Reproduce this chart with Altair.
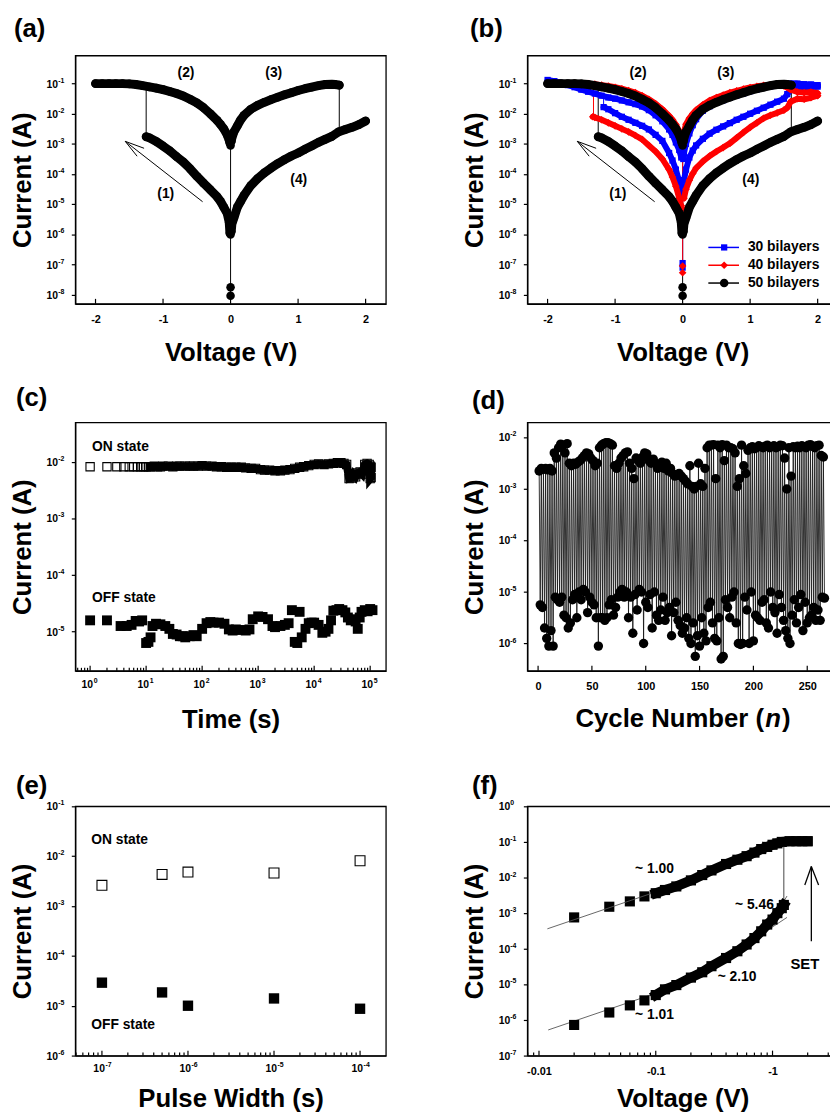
import altair as alt
import pandas as pd

FONT = "Liberation Sans"

# ---------------- (a)/(b): 50 bilayers, black circles (log10 of current) ----------------
bk_hrs_neg_v = [-0.01, -0.02, -0.05, -0.1, -0.15, -0.2, -0.3, -0.4, -0.5, -0.6, -0.7, -0.8, -0.9, -1.0, -1.1, -1.2, -1.25]
bk_hrs_neg_i = [-5.95, -5.6, -5.3, -5.1, -4.9, -4.75, -4.52, -4.3, -4.07, -3.82, -3.6, -3.42, -3.23, -3.07, -2.92, -2.8, -2.76]
bk_lrs_neg_v = [-2.0, -1.9, -1.8, -1.7, -1.6, -1.5, -1.4, -1.3, -1.2, -1.1, -1.0, -0.9, -0.8, -0.7, -0.6, -0.5, -0.4, -0.3, -0.2, -0.15, -0.1, -0.05, -0.02, -0.01]
bk_lrs_neg_i = [-1.0, -1.0, -1.0, -1.0, -1.0, -1.01, -1.03, -1.07, -1.11, -1.15, -1.2, -1.26, -1.33, -1.41, -1.52, -1.64, -1.8, -2.0, -2.22, -2.35, -2.5, -2.7, -2.88, -2.97]
bk_lrs_pos_v = [0.01, 0.02, 0.05, 0.1, 0.15, 0.2, 0.3, 0.4, 0.5, 0.6, 0.7, 0.8, 0.9, 1.0, 1.1, 1.2, 1.3, 1.4, 1.5, 1.55, 1.61]
bk_lrs_pos_i = [-2.92, -2.8, -2.6, -2.4, -2.2, -2.05, -1.85, -1.72, -1.62, -1.53, -1.45, -1.37, -1.3, -1.23, -1.17, -1.12, -1.07, -1.03, -1.02, -1.03, -1.05]
bk_hrs_pos_v = [0.01, 0.02, 0.05, 0.1, 0.15, 0.2, 0.3, 0.4, 0.5, 0.6, 0.7, 0.8, 0.9, 1.0, 1.1, 1.2, 1.3, 1.4, 1.5, 1.6, 1.7, 1.8, 1.9, 2.0]
bk_hrs_pos_i = [-5.9, -5.65, -5.45, -5.1, -4.9, -4.7, -4.38, -4.15, -3.96, -3.8, -3.65, -3.52, -3.4, -3.3, -3.18, -3.07, -2.95, -2.85, -2.75, -2.6, -2.52, -2.45, -2.36, -2.24]
bk_zero_i = [-8.03, -7.75, -6.0, -5.85, -3.05, -2.88]
bk_jump_v = [-1.25, 1.61, 0.0]
bk_jump_from = [-2.76, -1.05, -2.97]
bk_jump_to = [-1.12, -2.58, -8.03]

# ---------------- (b): 30 bilayers, blue squares ----------------
bl_lrs_neg_v = [-2.0, -1.9, -1.8, -1.7, -1.6, -1.5, -1.4, -1.3, -1.2, -1.1, -1.0, -0.9, -0.8, -0.7, -0.6, -0.5, -0.4, -0.3, -0.2, -0.15, -0.1, -0.05, -0.02]
bl_lrs_neg_i = [-0.88, -0.92, -0.98, -1.05, -1.12, -1.2, -1.27, -1.33, -1.4, -1.46, -1.5, -1.56, -1.62, -1.68, -1.76, -1.88, -2.05, -2.25, -2.52, -2.7, -2.95, -3.2, -3.45]
bl_hrs_neg_v = [-1.17, -1.1, -1.0, -0.9, -0.8, -0.7, -0.6, -0.5, -0.4, -0.3, -0.2, -0.15, -0.1, -0.05, -0.02, -0.01]
bl_hrs_neg_i = [-1.78, -1.85, -1.98, -2.1, -2.2, -2.3, -2.4, -2.52, -2.7, -2.9, -3.3, -3.55, -3.85, -4.25, -4.5, -4.7]
bl_lrs_pos_v = [0.01, 0.02, 0.05, 0.1, 0.15, 0.2, 0.3, 0.4, 0.5, 0.6, 0.7, 0.8, 0.9, 1.0, 1.1, 1.2, 1.3, 1.4, 1.5, 1.6, 1.7, 1.8, 1.9, 2.0]
bl_lrs_pos_i = [-3.5, -3.3, -3.0, -2.65, -2.38, -2.18, -1.9, -1.75, -1.64, -1.55, -1.47, -1.39, -1.32, -1.25, -1.19, -1.14, -1.09, -1.05, -1.02, -1.0, -1.0, -1.02, -1.03, -1.05]
bl_hrs_pos_v = [2.0, 1.9, 1.8, 1.7, 1.6, 1.55, 1.5, 1.4, 1.3, 1.2, 1.1, 1.0, 0.9, 0.8, 0.7, 0.6, 0.5, 0.4, 0.3, 0.2, 0.15, 0.1, 0.05, 0.02]
bl_hrs_pos_i = [-1.1, -1.12, -1.12, -1.15, -1.2, -1.35, -1.5, -1.6, -1.7, -1.8, -1.9, -2.0, -2.1, -2.2, -2.31, -2.42, -2.53, -2.66, -2.83, -3.05, -3.22, -3.45, -3.85, -4.2]
bl_zero_i = [-4.4, -6.95, -7.1]
bl_jump_v = [-1.17, 0.0]
bl_jump_from = [-1.78, -3.45]
bl_jump_to = [-1.4, -7.1]

# ---------------- (b): 40 bilayers, red diamonds ----------------
rd_lrs_neg_v = [-2.0, -1.9, -1.8, -1.7, -1.6, -1.5, -1.4, -1.3, -1.2, -1.1, -1.0, -0.9, -0.8, -0.7, -0.6, -0.5, -0.4, -0.3, -0.2, -0.15, -0.1, -0.05, -0.02, -0.01]
rd_lrs_neg_i = [-1.0, -1.0, -1.0, -1.0, -0.99, -1.0, -1.0, -1.02, -1.05, -1.08, -1.12, -1.17, -1.23, -1.3, -1.4, -1.52, -1.67, -1.85, -2.07, -2.2, -2.36, -2.58, -2.8, -2.92]
rd_hrs_neg_v = [-1.33, -1.3, -1.2, -1.1, -1.0, -0.9, -0.8, -0.7, -0.6, -0.5, -0.4, -0.3, -0.2, -0.15, -0.1, -0.05, -0.02, -0.01]
rd_hrs_neg_i = [-2.1, -2.12, -2.2, -2.3, -2.4, -2.5, -2.6, -2.72, -2.85, -3.05, -3.25, -3.5, -3.85, -4.1, -4.4, -4.8, -5.05, -5.15]
rd_lrs_pos_v = [0.01, 0.02, 0.05, 0.1, 0.15, 0.2, 0.3, 0.4, 0.5, 0.6, 0.7, 0.8, 0.9, 1.0, 1.1, 1.2, 1.3, 1.4, 1.5, 1.6, 1.7, 1.8, 1.9, 2.0]
rd_lrs_pos_i = [-2.75, -2.6, -2.35, -2.15, -2.0, -1.88, -1.7, -1.56, -1.46, -1.38, -1.3, -1.24, -1.18, -1.13, -1.09, -1.06, -1.04, -1.04, -1.08, -1.2, -1.28, -1.3, -1.28, -1.32]
rd_hrs_pos_v = [2.0, 1.9, 1.8, 1.7, 1.6, 1.55, 1.5, 1.4, 1.3, 1.2, 1.1, 1.0, 0.9, 0.8, 0.7, 0.6, 0.5, 0.4, 0.3, 0.2, 0.15, 0.1, 0.05, 0.02]
rd_hrs_pos_i = [-1.4, -1.47, -1.52, -1.5, -1.6, -1.8, -1.88, -1.97, -2.05, -2.15, -2.3, -2.45, -2.62, -2.8, -2.98, -3.12, -3.25, -3.4, -3.58, -3.8, -3.98, -4.2, -4.5, -4.8]
rd_zero_i = [-5.15, -7.05, -7.27]
rd_jump_v = [-1.32, 0.0]
rd_jump_from = [-2.1, -2.92]
rd_jump_to = [-1.03, -7.27]

# annotations of (a)/(b), data units
ann_txt = ["(1)", "(2)", "(3)", "(4)"]
ann_v = [-0.96, -0.66, 0.64, 1.01]
ann_i = [-4.65, -0.65, -0.65, -4.2]
arrow_v1 = [-0.414, -1.56, -1.56]
arrow_i1 = [-4.916, -2.914, -2.914]
arrow_v2 = [-1.56, -1.281, -1.384]
arrow_i2 = [-2.914, -3.144, -3.407]
legend_names = ["30 bilayers", "40 bilayers", "50 bilayers"]
legend_colors = ["#0000ff", "#ff0000", "#000000"]
legend_shapes = ["square", "diamond", "circle"]
legend_sizes = [40, 60, 75]

# ---------------- (c): retention ----------------
c_on_t = [1, 2, 3, 4, 5, 6, 7, 8, 9, 10,
          11, 12, 14, 16, 18, 20, 25, 30, 35, 40,
          50, 60, 70, 85, 100, 120, 150, 180, 220, 270,
          330, 400, 500, 600, 750, 900, 1100, 1300, 1600, 2000,
          2500, 3000, 3700, 4500, 5500, 6500, 8000, 10000, 12000, 15000,
          18000, 22000, 26000, 30000, 34000, 38000, 42000, 46000, 50000, 55000,
          60000, 66000, 72000, 80000, 88000, 96000, 100000, 104000, 100000, 104000]
c_on_i = [-2.09, -2.09, -2.09, -2.09, -2.09, -2.09, -2.09, -2.09, -2.09, -2.09,
          -2.09, -2.09, -2.08, -2.09, -2.09, -2.08, -2.08, -2.09, -2.08, -2.08,
          -2.08, -2.08, -2.08, -2.08, -2.07, -2.08, -2.08, -2.09, -2.09, -2.1,
          -2.1, -2.1, -2.1, -2.11, -2.12, -2.12, -2.14, -2.15, -2.15, -2.16,
          -2.16, -2.15, -2.14, -2.12, -2.1, -2.09, -2.07, -2.05, -2.04, -2.05,
          -2.04, -2.03, -2.02, -2.02, -2.03, -2.05, -2.3, -2.29, -2.22, -2.27,
          -2.2, -2.18, -2.22, -2.05, -2.03, -2.05, -2.08, -2.28, -2.3, -2.1]
c_off_t = [1, 2, 3.5, 4.5, 5.5, 6.5, 7.5, 8.5, 10, 11,
           12, 13, 15, 18, 22, 26, 30, 35, 40, 45,
           50, 60, 70, 80, 100, 120, 140, 160, 200, 250,
           300, 350, 400, 500, 600, 700, 800, 1000, 1200, 1500,
           1800, 2000, 2500, 3000, 3500, 4000, 4500, 5000, 5500, 6000,
           7000, 8000, 9000, 10000, 12000, 14000, 16000, 18000, 20000, 22000,
           25000, 28000, 32000, 36000, 40000, 45000, 50000, 55000, 60000, 65000,
           70000, 80000, 90000, 100000, 110000]
c_off_i = [-4.8, -4.8, -4.9, -4.9, -4.88, -4.81, -4.82, -4.8, -5.2, -5.18,
           -5.1, -4.9, -4.86, -4.87, -4.9, -4.95, -5.04, -5.05, -5.08, -5.08,
           -5.1, -5.08, -5.06, -5.08, -4.95, -4.85, -4.83, -4.84, -4.84, -4.86,
           -4.96, -4.98, -4.96, -4.97, -4.98, -4.96, -4.78, -4.73, -4.74, -4.78,
           -4.9, -4.92, -4.9, -4.88, -4.85, -4.62, -5.18, -5.2, -4.65, -5.1,
           -4.95, -4.85, -4.84, -4.84, -4.88, -5.02, -5.0, -4.95, -4.8, -4.63,
           -4.62, -4.6, -4.62, -4.66, -4.75, -4.8, -4.78, -4.82, -4.95, -4.75,
           -4.65, -4.62, -4.64, -4.6, -4.62]

# ---------------- (d): endurance (log10 current, ON / OFF per read pair) ----------------
d_on = [-2.65, -2.6, -2.62, -2.6, -2.63, -2.6, -2.65, -2.3, -2.4, -2.2,
        -2.13, -2.15, -2.3, -2.12, -2.5, -2.55, -2.5, -2.52, -2.48, -2.45,
        -2.4, -2.35, -2.3, -2.32, -2.4, -2.45, -2.55, -2.5, -2.2, -2.15,
        -2.12, -2.1, -2.1, -2.12, -2.15, -2.55, -2.6, -2.5, -2.4, -2.35,
        -2.3, -2.28, -2.5, -2.6, -2.8, -2.4, -2.45, -2.5, -2.38, -2.3,
        -2.32, -2.45, -2.5, -2.42, -2.5, -2.6, -2.55, -2.48, -2.6, -2.5,
        -2.65, -2.6, -2.7, -2.75, -2.72, -2.7, -2.75, -2.8, -2.85, -2.9,
        -2.55, -2.95, -3.0, -2.95, -2.5, -2.9, -2.95, -2.6, -2.2, -2.15,
        -2.15, -2.14, -2.8, -2.15, -2.2, -2.14, -2.45, -2.15, -2.2, -2.2,
        -2.22, -2.3, -2.95, -2.8, -2.15, -2.55, -2.7, -2.25, -2.2, -2.18,
        -2.22, -2.2, -2.16, -2.18, -2.2, -2.17, -2.15, -2.2, -2.18, -2.16,
        -2.2, -2.18, -2.15, -2.16, -2.4, -3.0, -2.2, -2.75, -2.18, -2.2,
        -2.17, -2.2, -2.16, -2.18, -2.2, -2.15, -2.14, -2.17, -2.2, -2.16,
        -2.15, -2.35, -2.38]
d_off = [-5.25, -5.3, -5.7, -5.9, -6.05, -5.75, -6.05, -5.1, -5.15, -5.2,
         -5.1, -5.45, -5.5, -5.7, -5.6, -5.15, -5.05, -5.5, -5.0, -5.15,
         -4.95, -5.0, -5.4, -5.1, -5.2, -5.25, -5.5, -6.05, -5.5, -5.5,
         -5.55, -5.5, -5.25, -5.15, -5.45, -5.3, -5.1, -5.0, -4.95, -5.1,
         -5.0, -5.5, -5.1, -5.8, -5.05, -5.35, -4.95, -5.0, -6.0, -5.2,
         -5.3, -5.05, -5.7, -5.0, -5.45, -5.55, -5.35, -5.1, -5.55, -5.4,
         -5.3, -5.85, -5.4, -5.2, -5.55, -5.65, -5.8, -5.7, -5.5, -5.9,
         -6.0, -5.6, -6.25, -5.85, -6.05, -5.5, -5.8, -5.95, -5.3, -5.2,
         -5.6, -5.9, -5.95, -5.5, -6.3, -6.25, -5.15, -5.3, -5.5, -5.1,
         -5.0, -5.6, -6.0, -6.02, -6.0, -5.1, -5.35, -6.0, -5.0, -5.95,
         -5.45, -5.5, -5.55, -5.2, -5.15, -5.6, -5.7, -5.0, -5.3, -5.4,
         -5.8, -5.05, -5.3, -5.55, -5.75, -5.9, -6.0, -5.45, -5.15, -5.6,
         -5.3, -5.05, -5.75, -5.2, -5.6, -5.5, -5.45, -5.3, -5.55, -5.35,
         -5.55, -5.1, -5.12]

# ---------------- (e): pulse width ----------------
e_width = [1e-7, 5e-7, 1e-6, 1e-5, 1e-4]
e_on = [2.6e-3, 4.3e-3, 4.8e-3, 4.6e-3, 8.1e-3]
e_off = [2.9e-5, 1.85e-5, 1.0e-5, 1.4e-5, 8.7e-6]

# ---------------- (f): log-log fitting (|V|, log10 I) ----------------
f_on_v = [0.02, 0.04, 0.06, 0.08, 0.1, 0.12, 0.15, 0.2, 0.25, 0.3, 0.4, 0.5, 0.6, 0.7, 0.8, 0.9, 1.0, 1.1, 1.2, 1.4, 1.6, 1.8, 2.0]
f_on_i = [-3.12, -2.82, -2.67, -2.53, -2.44, -2.35, -2.25, -2.08, -1.93, -1.8, -1.62, -1.5, -1.4, -1.3, -1.2, -1.14, -1.08, -1.04, -1.0, -0.98, -0.98, -0.98, -0.98]
f_off_v = [0.02, 0.04, 0.06, 0.08, 0.1, 0.12, 0.15, 0.2, 0.25, 0.3, 0.4, 0.5, 0.6, 0.7, 0.8, 0.9, 1.0, 1.1, 1.2, 1.25]
f_off_i = [-6.14, -5.79, -5.59, -5.45, -5.3, -5.14, -5.02, -4.81, -4.66, -4.49, -4.26, -4.07, -3.88, -3.7, -3.51, -3.32, -3.18, -3.0, -2.86, -2.77]
fit_v1 = [0.0118, 0.012, 0.2, 0.9]
fit_i1 = [-3.44, -6.28, -4.9, -3.45]
fit_v2 = [0.105, 0.1, 1.33, 1.33]
fit_i2 = [-2.38, -5.25, -3.12, -2.52]
f_lab_txt = ["~ 1.00", "~ 5.46", "~ 2.10", "~ 1.01"]
f_lab_v = [0.0665, 0.477, 0.339, 0.0665]
f_lab_i = [-1.77, -2.77, -4.8, -5.86]
f_jump_v = [1.25]
f_jump_from = [-2.77]
f_jump_to = [-1.0]
set_v1 = [2.15, 2.15, 2.15]
set_i1 = [-3.79, -1.69, -1.69]
set_v2 = [2.15, 1.89, 2.48]
set_i2 = [-1.69, -2.21, -2.21]

# =====================================================================
ONE = pd.DataFrame({"a": [0]})
W = 314
LBL = 10.5   # tick label font size
SUPSZ = 7    # exponent font size


def y_axis():
    # labels are drawn as "10" + raised exponent text layers
    return alt.Axis(labels=False, title="Current (A)", tickSize=4, titlePadding=10,
                    minExtent=30, maxExtent=30, grid=False)


def x_axis(values, title, expr=None, tpad=14):
    kw = dict(values=values, ticks=False, tickSize=0, labelPadding=10,
              titlePadding=tpad, minExtent=22, maxExtent=22, grid=False,
              labelOverlap=False, labelFlush=False, labelFontSize=11)
    if expr is None:
        kw["labels"] = False
    else:
        kw["labelExpr"] = expr
    kw["title"] = title
    return alt.Axis(**kw)


def lg(vals):
    return [10.0 ** x for x in vals]


class Ctx:
    def __init__(self, xs, ys, xa, ya, h, ytick_exps):
        self.xs, self.ys, self.xa, self.ya, self.h = xs, ys, xa, ya, h
        self.ya.values = [10.0 ** e for e in ytick_exps]
        self.yexps = ytick_exps

    def X(self, f):
        return alt.X(f, type="quantitative", scale=self.xs, axis=self.xa)

    def Y(self, f):
        return alt.Y(f, type="quantitative", scale=self.ys, axis=self.ya)


def pow_df(exps):
    return pd.DataFrame({"tv": [10.0 ** e for e in exps], "ex": [str(e) for e in exps]})


def y_pow_labels(ctx):
    df = pow_df(ctx.yexps)
    base = alt.Chart(df).mark_text(text="10", align="left", baseline="middle", dy=1, font=FONT,
                                   fontSize=LBL, fontWeight="bold", color="black").encode(
        x=alt.value(-29), y=ctx.Y("tv"))
    sup = alt.Chart(df).mark_text(align="left", baseline="middle", dy=-3, font=FONT, fontSize=SUPSZ,
                                  fontWeight="bold", color="black").encode(
        x=alt.value(-17.2), y=ctx.Y("tv"), text="ex:N")
    return [base, sup]


def x_pow_labels(ctx, exps):
    df = pow_df(exps)
    base = alt.Chart(df).mark_text(text="10", align="right", baseline="middle", dx=3, font=FONT,
                                   fontSize=LBL, fontWeight="bold", color="black").encode(
        x=ctx.X("tv"), y=alt.value(ctx.h + 14))
    sup = alt.Chart(df).mark_text(align="left", baseline="middle", dx=3.6, font=FONT, fontSize=SUPSZ,
                                  fontWeight="bold", color="black").encode(
        x=ctx.X("tv"), y=alt.value(ctx.h + 10), text="ex:N")
    return [base, sup]


def branches_df(branches):
    rows = []
    for name, vs, ls in branches:
        for k, (v, l) in enumerate(zip(vs, ls)):
            rows.append({"v": v, "i": 10.0 ** l, "br": name, "ord": k})
    return pd.DataFrame(rows)


def free_text(txt, dx, dy, size=26, italic=False, baseline="top"):
    return alt.Chart(ONE).mark_text(text=txt, align="left", baseline=baseline, font=FONT, fontSize=size,
                                    fontWeight="bold", fontStyle="italic" if italic else "normal",
                                    color="black").encode(x=alt.value(dx), y=alt.value(dy))


def panel_label(txt, dx, dy):
    return free_text(txt, dx, dy)


def spacer(h, top, bottom, left=None):
    """invisible layout guides that fix the outer extent of a panel"""
    out = [alt.Chart(ONE).mark_rule(strokeOpacity=0, strokeWidth=0).encode(
        x=alt.value(0), y=alt.value(-top), y2=alt.value(h + bottom))]
    if left is not None:
        out.append(alt.Chart(ONE).mark_rule(strokeOpacity=0, strokeWidth=0).encode(
            x=alt.value(-left), x2=alt.value(0), y=alt.value(0)))
    return out


def in_ticks(ctx, values, length):
    df = pd.DataFrame({"tk": values})
    return alt.Chart(df).mark_rule(color="black", strokeWidth=1.2).encode(
        x=ctx.X("tk"), y=alt.value(ctx.h), y2=alt.value(ctx.h - length))


def log_minor(lo, hi, kmin, kmax):
    return [m * 10.0 ** k for k in range(kmin, kmax + 1) for m in range(2, 10) if lo <= m * 10.0 ** k <= hi]


def log_major(lo, hi, kmin, kmax):
    return [10.0 ** k for k in range(kmin, kmax + 1) if lo <= 10.0 ** k <= hi]


def texts(ctx, txt, xv, yv, size=14, align="center"):
    df = pd.DataFrame({"t": txt, "x": xv, "y": yv})
    return alt.Chart(df).mark_text(font=FONT, fontSize=size, fontWeight="bold", color="black",
                                   align=align, baseline="middle").encode(
        x=ctx.X("x"), y=ctx.Y("y"), text="t:N")


def segs(ctx, v1, i1, v2, i2, color="black", width=1.0):
    df = pd.DataFrame({"v1": v1, "i1": lg(i1), "v2": v2, "i2": lg(i2)})
    return alt.Chart(df).mark_rule(color=color, strokeWidth=width).encode(
        x=ctx.X("v1"), y=ctx.Y("i1"), x2="v2:Q", y2="i2:Q")


# ---------------- I-V panels (a), (b) ----------------
H1 = 251
IV = Ctx(alt.Scale(domain=[-2.3, 2.3], nice=False, zero=False),
         alt.Scale(type="log", domain=[10 ** -8.3, 10 ** -0.07], nice=False),
         x_axis([-2, -1, 0, 1, 2], "Voltage (V)", "datum.value < 0 ? '-' + abs(datum.value) : '' + datum.value"),
         y_axis(), H1, list(range(-8, 0)))


def iv_series(branches, zero_i, color, shape, size, lw):
    df = branches_df(branches)
    zdf = pd.DataFrame({"v": [0.0] * len(zero_i), "i": lg(zero_i)})
    band = alt.Chart(df).mark_line(color=color, strokeWidth=lw, strokeCap="round", strokeJoin="round").encode(
        x=IV.X("v"), y=IV.Y("i"), detail="br:N", order="ord:Q")
    pts_df = pd.concat([df[["v", "i"]], zdf], ignore_index=True)
    pts = alt.Chart(pts_df).mark_point(shape=shape, filled=True, size=size, color=color, opacity=1,
                                       strokeWidth=0).encode(x=IV.X("v"), y=IV.Y("i"))
    return [band, pts]


def iv_jumps(jv, jf, jt, color):
    df = pd.DataFrame({"v": jv, "i1": lg(jf), "i2": lg(jt)})
    return alt.Chart(df).mark_rule(color=color, strokeWidth=1).encode(x=IV.X("v"), y=IV.Y("i1"), y2="i2:Q")


bk_branches = [("hn", bk_hrs_neg_v, bk_hrs_neg_i), ("ln", bk_lrs_neg_v, bk_lrs_neg_i),
               ("lp", bk_lrs_pos_v, bk_lrs_pos_i), ("hp", bk_hrs_pos_v, bk_hrs_pos_i)]
bl_branches = [("hn", bl_hrs_neg_v, bl_hrs_neg_i), ("ln", bl_lrs_neg_v, bl_lrs_neg_i),
               ("lp", bl_lrs_pos_v, bl_lrs_pos_i), ("hp", bl_hrs_pos_v, bl_hrs_pos_i)]
rd_branches = [("hn", rd_hrs_neg_v, rd_hrs_neg_i), ("ln", rd_lrs_neg_v, rd_lrs_neg_i),
               ("lp", rd_lrs_pos_v, rd_lrs_pos_i), ("hp", rd_hrs_pos_v, rd_hrs_pos_i)]

iv_ann = [texts(IV, ann_txt, ann_v, lg(ann_i), size=14),
          segs(IV, arrow_v1, arrow_i1, arrow_v2, arrow_i2, width=1.0),
          in_ticks(IV, [-2, -1, 0, 1, 2], 5),
          *y_pow_labels(IV)]

T1, B1 = 40, 70
panel_a = alt.layer(
    iv_jumps(bk_jump_v, bk_jump_from, bk_jump_to, "black"),
    *iv_series(bk_branches, bk_zero_i, "black", "circle", 75, 9),
    *iv_ann,
    panel_label("(a)", -62, -39.6),
    *spacer(H1, T1, B1, left=70),
).properties(width=W, height=H1)

legend_layers = []
for k in range(3):
    yy = 194 + 18 * k
    legend_layers.append(alt.Chart(ONE).mark_rule(color=legend_colors[k], strokeWidth=1.5).encode(
        x=alt.value(183), x2=alt.value(214), y=alt.value(yy)))
    legend_layers.append(alt.Chart(ONE).mark_point(shape=legend_shapes[k], filled=True, size=legend_sizes[k],
                                                   color=legend_colors[k], opacity=1, strokeWidth=0).encode(
        x=alt.value(199), y=alt.value(yy)))
    legend_layers.append(alt.Chart(ONE).mark_text(text=legend_names[k], align="left", baseline="middle",
                                                  font=FONT, fontSize=14, fontWeight="bold",
                                                  color="black").encode(x=alt.value(223), y=alt.value(yy)))

panel_b = alt.layer(
    iv_jumps(bk_jump_v, bk_jump_from, bk_jump_to, "black"),
    iv_jumps(bl_jump_v, bl_jump_from, bl_jump_to, "#0000ff"),
    iv_jumps(rd_jump_v, rd_jump_from, rd_jump_to, "#ff0000"),
    *iv_series(bl_branches, bl_zero_i, "#0000ff", "square", 40, 6),
    *iv_series(rd_branches, rd_zero_i, "#ff0000", "diamond", 60, 6),
    *iv_series(bk_branches, bk_zero_i, "black", "circle", 75, 9),
    *iv_ann,
    *legend_layers,
    panel_label("(b)", -58, -39.6),
    *spacer(H1, T1, B1),
).properties(width=W, height=H1)

# ---------------- (c) retention ----------------
H2 = 251
T2, B2 = 48, 70
lo_t, hi_t = 10 ** -0.265, 10 ** 5.28
C = Ctx(alt.Scale(type="log", domain=[lo_t, hi_t], nice=False),
        alt.Scale(type="log", domain=[10 ** -5.69, 10 ** -1.31], nice=False),
        x_axis(lg(range(0, 6)), "Time (s)"),
        y_axis(), H2, list(range(-5, -1)))
c_on_df = pd.DataFrame({"t": c_on_t, "i": lg(c_on_i)})
c_off_df = pd.DataFrame({"t": c_off_t, "i": lg(c_off_i)})

panel_c = alt.layer(
    alt.Chart(c_off_df).mark_point(shape="square", filled=True, size=100, color="black", opacity=1,
                                   strokeWidth=0).encode(x=C.X("t"), y=C.Y("i")),
    alt.Chart(c_on_df).transform_filter("datum.t >= 12").mark_line(
        color="black", strokeWidth=8, strokeCap="square").encode(x=C.X("t"), y=C.Y("i")),
    alt.Chart(c_on_df).mark_point(shape="square", filled=False, size=70, color="black", opacity=1,
                                  strokeWidth=1.1).encode(x=C.X("t"), y=C.Y("i")),
    texts(C, ["ON state", "OFF state"], [1.08, 1.08], lg([-1.74, -4.4]), size=14, align="left"),
    in_ticks(C, log_major(lo_t, hi_t, 0, 5), 5),
    in_ticks(C, log_minor(lo_t, hi_t, -1, 5), 3),
    *y_pow_labels(C),
    *x_pow_labels(C, list(range(0, 6))),
    panel_label("(c)", -60, -37.6),
    *spacer(H2, T2, B2, left=70),
).properties(width=W, height=H2)

# ---------------- (d) endurance ----------------
D = Ctx(alt.Scale(domain=[-10, 278.5], nice=False, zero=False),
        alt.Scale(type="log", domain=[10 ** -6.53, 10 ** -1.71], nice=False),
        x_axis([0, 50, 100, 150, 200, 250], None, "'' + datum.value"),
        y_axis(), H2, list(range(-6, -1)))
d_rows = []
for k in range(len(d_on)):
    d_rows.append({"n": 2 * k + 1, "i": 10.0 ** d_on[k], "ord": 2 * k})
    d_rows.append({"n": 2 * k + 2, "i": 10.0 ** d_off[k], "ord": 2 * k + 1})
d_df = pd.DataFrame(d_rows)

panel_d = alt.layer(
    alt.Chart(d_df).mark_line(color="#1a1a1a", strokeWidth=0.9).encode(
        x=D.X("n"), y=D.Y("i"), order="ord:Q"),
    alt.Chart(d_df).mark_point(shape="circle", filled=True, size=90, color="black", opacity=1,
                               strokeWidth=0).encode(x=D.X("n"), y=D.Y("i")),
    in_ticks(D, [0, 50, 100, 150, 200, 250], 5),
    *y_pow_labels(D),
    panel_label("(d)", -56, -34.6),
    # x-axis title with italic n
    free_text("Cycle Number (", 48.7, H2 + 36),
    free_text("n", 240.5, H2 + 36, italic=True),
    free_text(")", 257.5, H2 + 36),
    *spacer(H2, T2, B2),
).properties(width=W, height=H2)

# ---------------- (e) pulse width ----------------
H3 = 252
T3, B3 = 65, 56
lo_p, hi_p = 10 ** -7.31, 10 ** -3.70
E = Ctx(alt.Scale(type="log", domain=[lo_p, hi_p], nice=False),
        alt.Scale(type="log", domain=[1e-6, 1e-1], nice=False),
        x_axis(lg(range(-7, -3)), "Pulse Width (s)", tpad=8),
        y_axis(), H3, list(range(-6, 0)))
e_df = pd.DataFrame({"w": e_width, "on": e_on, "off": e_off})

panel_e = alt.layer(
    alt.Chart(e_df).mark_point(shape="square", filled=True, size=110, color="black", opacity=1,
                               strokeWidth=0).encode(x=E.X("w"), y=E.Y("off")),
    alt.Chart(e_df).mark_point(shape="square", filled=False, size=100, color="black", opacity=1,
                               strokeWidth=1.1).encode(x=E.X("w"), y=E.Y("on")),
    texts(E, ["ON state", "OFF state"], [7.5e-8, 7.5e-8], lg([-1.675, -5.385]), size=14, align="left"),
    in_ticks(E, log_major(lo_p, hi_p, -7, -4), 5),
    in_ticks(E, log_minor(lo_p, hi_p, -8, -4), 3),
    *y_pow_labels(E),
    *x_pow_labels(E, list(range(-7, -3))),
    panel_label("(e)", -60, -33.6),
    *spacer(H3, T3, B3, left=70),
).properties(width=W, height=H3)

# ---------------- (f) log-log fitting ----------------
lo_f, hi_f = 10 ** -2.1, 10 ** 0.56
F = Ctx(alt.Scale(type="log", domain=[lo_f, hi_f], nice=False),
        alt.Scale(type="log", domain=[1e-7, 1.0], nice=False),
        x_axis([0.01, 0.1, 1.0], "Voltage (V)",
               "datum.value < 0.05 ? '-0.01' : (datum.value < 0.5 ? '-0.1' : '-1')", tpad=8),
        y_axis(), H3, list(range(-7, 1)))
f_on_df = pd.DataFrame({"v": f_on_v, "i": lg(f_on_i)})
f_off_df = pd.DataFrame({"v": f_off_v, "i": lg(f_off_i)})


def f_band(df):
    return alt.Chart(df).transform_filter("datum.v >= 0.1").mark_line(
        color="black", strokeWidth=10, strokeCap="square", strokeJoin="miter").encode(x=F.X("v"), y=F.Y("i"))


def f_pts(df):
    return alt.Chart(df).mark_point(shape="square", filled=True, size=105, color="black", opacity=1,
                                    strokeWidth=0).encode(x=F.X("v"), y=F.Y("i"))


panel_f = alt.layer(
    f_pts(f_on_df),
    segs(F, fit_v1, fit_i1, fit_v2, fit_i2, color="#555555", width=0.9),
    segs(F, f_jump_v, f_jump_from, f_jump_v, f_jump_to, color="#444444", width=1.0),
    f_band(f_on_df), f_band(f_off_df), f_pts(f_off_df),
    texts(F, f_lab_txt, f_lab_v, lg(f_lab_i), size=14, align="left"),
    texts(F, ["SET"], [1.89], lg([-4.42]), size=15),
    segs(F, set_v1, set_i1, set_v2, set_i2, width=1.3),
    in_ticks(F, log_major(lo_f, hi_f, -2, 0), 5),
    in_ticks(F, log_minor(lo_f, hi_f, -3, 0), 3),
    *y_pow_labels(F),
    panel_label("(f)", -56, -33.6),
    *spacer(H3, T3, B3),
).properties(width=W, height=H3)

# ---------------- layout ----------------
GAP = 143
row1 = alt.hconcat(panel_a, panel_b, spacing=GAP, bounds="flush")
row2 = alt.hconcat(panel_c, panel_d, spacing=GAP, bounds="flush")
row3 = alt.hconcat(panel_e, panel_f, spacing=GAP, bounds="flush")
chart = alt.vconcat(row1, row2, row3, spacing=0)
chart = chart.properties(
    padding={"left": -3, "top": 1, "right": -9, "bottom": -4},
    background="white",
).configure_view(
    stroke="black", strokeWidth=1.3
).configure_axis(
    labelFont=FONT, titleFont=FONT, labelFontWeight="bold", titleFontWeight="bold",
    labelColor="black", titleColor="black", domainColor="black", domainWidth=1.3,
    tickColor="black", tickWidth=1.2, labelFontSize=11, titleFontSize=26,
)

chart.save("out.html", embed_options={"renderer": "svg", "actions": False})
